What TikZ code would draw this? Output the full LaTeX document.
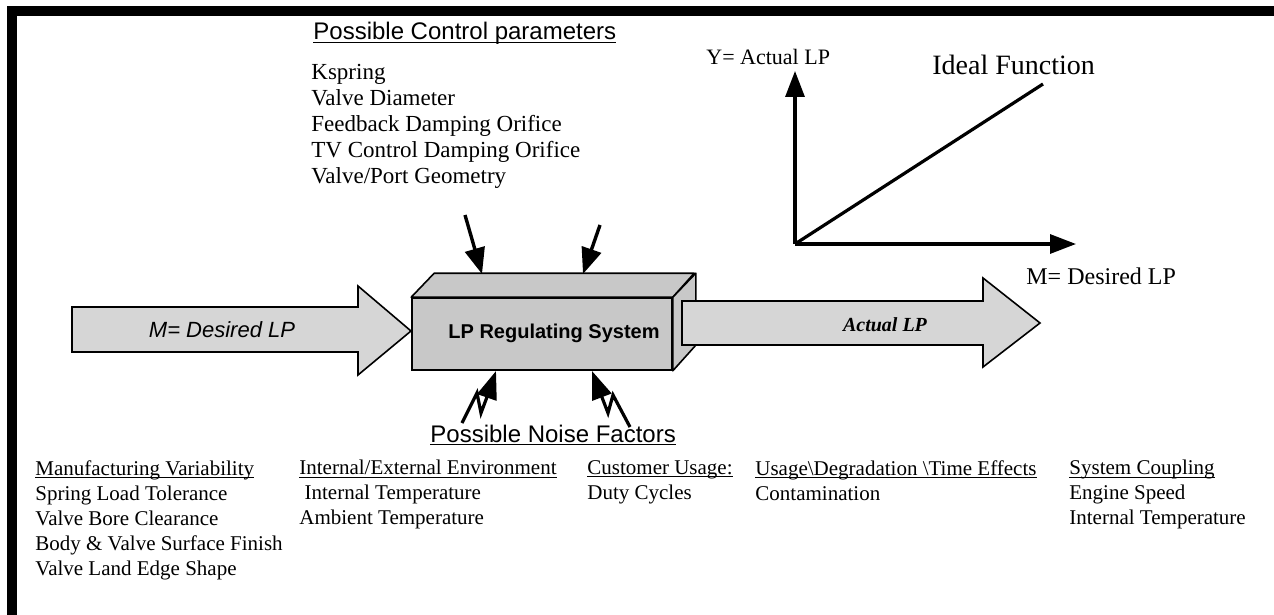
\documentclass[tikz,border=0pt]{standalone}
\usepackage{fontspec}
\setmainfont{Liberation Serif}
\setsansfont{Liberation Sans}
\usetikzlibrary{arrows.meta, positioning}
\definecolor{boxgray}{HTML}{C8C8C8}
\definecolor{shaftgray}{HTML}{D6D6D6}
\newsavebox{\ulbox}
\newcommand{\ulined}[1]{\sbox\ulbox{#1}\rlap{\rule[-1.5pt]{\wd\ulbox}{0.6pt}}\usebox\ulbox}

\begin{document}
\begin{tikzpicture}[x=0.5pt, y=-0.5pt,
    front/.style    = {draw, line width=0.8pt, fill=boxgray, minimum width=130pt,
                       minimum height=36pt, inner sep=0pt},
    face/.style     = {draw, line width=0.8pt, fill=boxgray, line join=round},
    blockarr/.style = {draw, line width=0.8pt, fill=shaftgray},
    ctlarr/.style   = {-{Triangle[length=13pt,width=10pt]}, line width=1.7pt},
    noisearr/.style = {-{Triangle[length=14pt,width=10pt]}, line width=1.6pt},
    axis/.style     = {-{Triangle[length=13pt,width=9.5pt]}, line width=1.6pt},
    title/.style    = {font=\sffamily\fontsize{12}{14}\selectfont, inner sep=0pt, anchor=base west},
    plist/.style    = {font=\fontsize{11.5}{13}\selectfont, align=left, inner sep=0pt, anchor=north west},
    nlist/.style    = {font=\fontsize{10.5}{12.5}\selectfont, align=left, inner sep=0pt, anchor=north west},
    axlbl/.style    = {inner sep=0pt, anchor=base west}
  ]
  \useasboundingbox (0,0) rectangle (1274,615);

  % ── Frame ──────────────────────────────────────────────────────────────────
  \fill (7,6) rectangle (1274,16);
  \fill (7,6) rectangle (17,615);

  % ── Control parameters ─────────────────────────────────────────────────────
  \node[title] (ctltitle) at (313,40) {\ulined{Possible Control parameters}};
  \node[plist] (ctllist) at (311,64)
    {Kspring\\Valve Diameter\\Feedback Damping Orifice\\TV Control Damping Orifice\\Valve/Port Geometry};

  % ── Input arrow ────────────────────────────────────────────────────────────
  \draw[blockarr] (72,307) -- (358,307) -- (358,286) -- (411,331) -- (358,375)
    -- (358,352) -- (72,352) -- cycle;
  \node[font=\sffamily\itshape\fontsize{11}{13}\selectfont] (inlbl) at (222,330) {M= Desired LP};

  % ── LP regulating system (box) ─────────────────────────────────────────────
  \node[front] (lpbox) at (542,334) {};
  \draw[face] (lpbox.north west) -- ++(23,-24) -- ++(260,0) -- (lpbox.north east) -- cycle;
  \draw[face] (lpbox.north east) -- ++(23,-24) -- ++(0,72) -- (lpbox.south east) -- cycle;
  \node[font=\sffamily\bfseries\fontsize{10}{12}\selectfont] (lplbl) at (554,333) {LP Regulating System};

  % ── Output arrow ───────────────────────────────────────────────────────────
  \draw[blockarr] (682,301) -- (983,301) -- (983,278) -- (1040,323) -- (983,367)
    -- (983,345) -- (682,345) -- cycle;
  \node[font=\bfseries\itshape\fontsize{10}{12}\selectfont] (outlbl) at (885,325) {Actual LP};

  % ── Control arrows ─────────────────────────────────────────────────────────
  \coordinate (ctl1s) at (465,215);
  \coordinate (ctl1)  at (482,274);
  \coordinate (ctl2s) at (600,225);
  \coordinate (ctl2)  at (583,274);
  \draw[ctlarr] (ctl1s) -- (ctl1);
  \draw[ctlarr] (ctl2s) -- (ctl2);

  % ── Noise arrows ───────────────────────────────────────────────────────────
  \coordinate (nz1s) at (462,423);
  \coordinate (nz1)  at (496,371);
  \coordinate (nz2s) at (630,427);
  \coordinate (nz2)  at (592,371);
  \draw[noisearr] (nz1s) -- ++(15,-30) -- ++(4,20) -- ++(6,-16) -- (nz1);
  \draw[noisearr] (nz2s) -- ++(-17,-32) -- ++(-5,18) -- ++(-5,-13) -- (nz2);
  \node[title] (noisetitle) at (430,442) {\ulined{Possible Noise Factors}};

  % ── Ideal function ─────────────────────────────────────────────────────────
  \coordinate (orig)  at (795,244);
  \coordinate (ytip)  at (795,71);
  \coordinate (xtip)  at (1076,244);
  \coordinate (ideal) at (1043,84);
  \draw[axis] (orig) -- (ytip);
  \draw[axis] (orig) -- (xtip);
  \draw[line width=1.6pt] (orig) -- (ideal);
  \node[axlbl, font=\fontsize{11}{13}\selectfont] (ylbl) at (706,65) {Y= Actual LP};
  \node[axlbl, font=\fontsize{14}{16}\selectfont] (ideallbl) at (932,75) {Ideal Function};
  \node[axlbl, font=\fontsize{12}{14}\selectfont] (xlbl) at (1026,284) {M= Desired LP};

  % ── Noise factor lists ─────────────────────────────────────────────────────
  \node[nlist] (mfg) at (35,460)
    {\ulined{Manufacturing Variability}\\Spring Load Tolerance\\Valve Bore Clearance\\Body \& Valve Surface Finish\\Valve Land Edge Shape};
  \node[nlist] (env) at (299,460)
    {\ulined{Internal/External Environment}\\\ Internal Temperature\\Ambient Temperature};
  \node[nlist] (cust) at (587,460) {\ulined{Customer Usage:}\\Duty Cycles};
  \node[nlist] (usage) at (755,460)
    {\ulined{Usage\textbackslash Degradation \textbackslash Time Effects}\\Contamination};
  \node[nlist] (coup) at (1069,460) {\ulined{System Coupling}\\Engine Speed\\Internal Temperature};

\end{tikzpicture}
\end{document}
